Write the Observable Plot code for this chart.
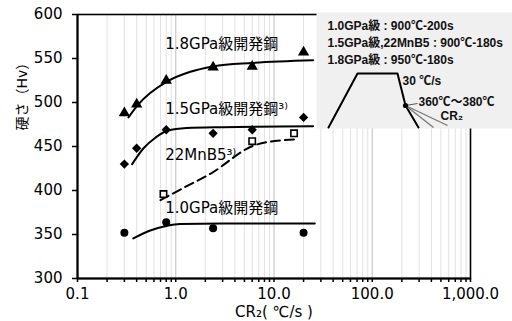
<!DOCTYPE html>
<html><head><meta charset="utf-8">
<script src="https://cdn.jsdelivr.net/npm/d3@7"></script>
<script src="https://cdn.jsdelivr.net/npm/@observablehq/plot@0.6"></script>
<style>
body{margin:0;background:#fff;}
#wrap{position:relative;width:512px;height:321px;overflow:hidden;}
#wrap svg{position:absolute;}
</style></head>
<body><div id="wrap"></div>
<script>
// ---- data ----
const xMeasured = [0.3, 0.4, 0.8, 2.4, 6, 20];
const hv18 = [488, 498, 525, 540, 541, 557];
const hv15 = [430, 448, 469, 465, 469, 483];
const xMnB5 = [0.75, 6, 16];
const hvMnB5 = [396, 456, 465];
const x10 = [0.3, 0.8, 2.4, 20];
const hv10 = [352, 364, 357, 352];

const fit18x = [0.33, 0.41, 0.82, 1.41, 2.4, 6, 25];
const fit18y = [483, 497, 524, 535, 541, 545, 548];
const fit15x = [0.36, 0.47, 0.62, 0.82, 1.3, 3, 25];
const fit15y = [430, 448, 460, 468, 471, 472, 473];
const fitMnx = [0.7, 1.2, 2.25, 6.2, 12, 17.7];
const fitMny = [389, 403, 419, 451, 457, 458];
const fit10x = [0.37, 0.55, 0.82, 1.1, 3, 26];
const fit10y = [345.5, 354.5, 360, 362, 362.5, 362.5];

const seriesNames = ["1.8GPa級開発鋼", "1.5GPa級開発鋼³⁾", "22MnB5³⁾", "1.0GPa級開発鋼"];
const seriesLabelHv = [566, 492, 440, 380];
const labelX = 0.78;

const yTicks = [300, 350, 400, 450, 500, 550, 600];
const xMajor = [0.1, 1, 10, 100, 1000];
const xMajorLabels = ["0.1", "1.0", "10.0", "100.0", "1,000.0"];
const xTitle = "CR₂( ℃/s )";
const yTitle = "硬さ（Hv）";

// inset (schematic heat-treatment chart)
const insetLines = ["1.0GPa級 : 900℃-200s", "1.5GPa級,22MnB5 : 900℃-180s", "1.8GPa級 : 950℃-180s"];
const profileT = [12, 41, 81, 89, 102];
const profileTemp = [115, 61, 61, 93, 115];
const cr2EndT = [117, 131];
const cr2EndTemp = [115, 113];

// ---- build ----
const minor = [];
[0.1, 1, 10, 100].forEach(d => { for (let k = 2; k <= 9; k++) minor.push(+(k * d).toPrecision(3)); });
const majorInner = [1, 10, 100];
const allXTicks = [...xMajor, ...minor];
const labelMap = new Map(xMajor.map((v, i) => [v, xMajorLabels[i]]));

const pts = (xs, ys) => xs.map((x, i) => ({x, y: ys[i]}));
const font = "'DejaVu Sans','Noto Sans CJK JP',sans-serif";

const main = Plot.plot({
  width: 512, height: 321,
  marginLeft: 77, marginRight: 42, marginTop: 14, marginBottom: 43,
  style: {fontFamily: font, fontSize: "15px", color: "#000", background: "transparent"},
  x: {type: "log", domain: [0.1, 1000]},
  y: {domain: [300, 600]},
  marks: [
    Plot.ruleX(minor, {stroke: "#e2e2e2", strokeWidth: 1}),
    Plot.ruleX(majorInner, {stroke: "#c8c8c8", strokeWidth: 1.2}),
    Plot.frame({stroke: "#000", strokeWidth: 1.6}),
    Plot.ruleX([0.1], {stroke: "#000", strokeWidth: 2}),
    Plot.ruleY([300], {stroke: "#000", strokeWidth: 2}),
    Plot.axisY({ticks: yTicks, tickSize: 5, tickPadding: 10, label: null, fontSize: 15, strokeWidth: 1.5}),
    Plot.axisX({ticks: allXTicks, tickSize: 4, tickPadding: 6, label: null, fontSize: 15, strokeWidth: 1.5,
      tickFormat: d => labelMap.get(+d.toPrecision(3)) ?? ""}),
    Plot.line(pts(fit18x, fit18y), {x: "x", y: "y", curve: "monotone-x", stroke: "#000", strokeWidth: 2}),
    Plot.line(pts(fit15x, fit15y), {x: "x", y: "y", curve: "monotone-x", stroke: "#000", strokeWidth: 2}),
    Plot.line(pts(fitMnx, fitMny), {x: "x", y: "y", curve: "monotone-x", stroke: "#000", strokeWidth: 2, strokeDasharray: "9,5"}),
    Plot.line(pts(fit10x, fit10y), {x: "x", y: "y", curve: "monotone-x", stroke: "#000", strokeWidth: 2}),
    Plot.dot(pts(xMeasured, hv18), {x: "x", y: "y", symbol: "triangle", r: 4.2, fill: "#000"}),
    Plot.dot(pts(xMeasured, hv15), {x: "x", y: "y", symbol: "diamond2", r: 4.2, fill: "#000"}),
    Plot.dot(pts(xMnB5, hvMnB5), {x: "x", y: "y", symbol: "square", r: 3.6, fill: "#fff", stroke: "#000", strokeWidth: 1.6}),
    Plot.dot(pts(x10, hv10), {x: "x", y: "y", symbol: "circle", r: 4, fill: "#000"}),
    Plot.text(seriesNames.map((t, i) => ({t, y: seriesLabelHv[i]})), {x: () => labelX, y: "y", text: "t", textAnchor: "start", fontSize: 15, fill: "#000"}),
    Plot.text([xTitle], {frameAnchor: "bottom", dy: 38, fontSize: 15, fill: "#000"}),
    Plot.text([yTitle], {frameAnchor: "left", dx: -55, dy: -16, rotate: -90, fontSize: 14, fill: "#000"})
  ]
});
main.style.left = "0px"; main.style.top = "0px";
document.getElementById("wrap").appendChild(main);

const insetFont = "'Liberation Sans','Noto Sans CJK JP',sans-serif";
const inset = Plot.plot({
  width: 196, height: 116, margin: 0,
  style: {fontFamily: insetFont, background: "transparent", color: "#000", overflow: "visible"},
  x: {domain: [0, 196], axis: null},
  y: {domain: [116, 0], axis: null},
  marks: [
    Plot.frame({fill: "#f0f0f0", stroke: "none"}),
    Plot.text(insetLines, {x: () => 11, y: (d, i) => 14 + 17 * i, text: d => d, textAnchor: "start", fontSize: 12, fontWeight: "bold", fill: "#111"}),
    Plot.line(pts(profileT, profileTemp), {x: "x", y: "y", stroke: "#000", strokeWidth: 2}),
    Plot.link(cr2EndT, {x1: () => profileT[3], y1: () => profileTemp[3], x2: d => d, y2: (d, i) => cr2EndTemp[i], stroke: "#777", strokeWidth: 1.3}),
    Plot.link([0], {x1: () => profileT[3], y1: () => profileTemp[3], x2: () => profileT[3] + 12, y2: () => profileTemp[3] - 2, stroke: "#555", strokeWidth: 1}),
    Plot.dot([0], {x: () => profileT[3], y: () => profileTemp[3], r: 2.6, fill: "#000"}),
    Plot.text(["30 ℃/s"], {x: () => 86, y: () => 69, textAnchor: "start", fontSize: 12, fontWeight: "bold", fill: "#111"}),
    Plot.text(["360℃～380℃"], {x: () => 102, y: () => 90, textAnchor: "start", fontSize: 12, fontWeight: "bold", fill: "#111"}),
    Plot.text(["CR₂"], {x: () => 124, y: () => 104, textAnchor: "start", fontSize: 12, fontWeight: "bold", fill: "#111"})
  ]
});
inset.style.left = "316px"; inset.style.top = "12px";
document.getElementById("wrap").appendChild(inset);
</script></body></html>
